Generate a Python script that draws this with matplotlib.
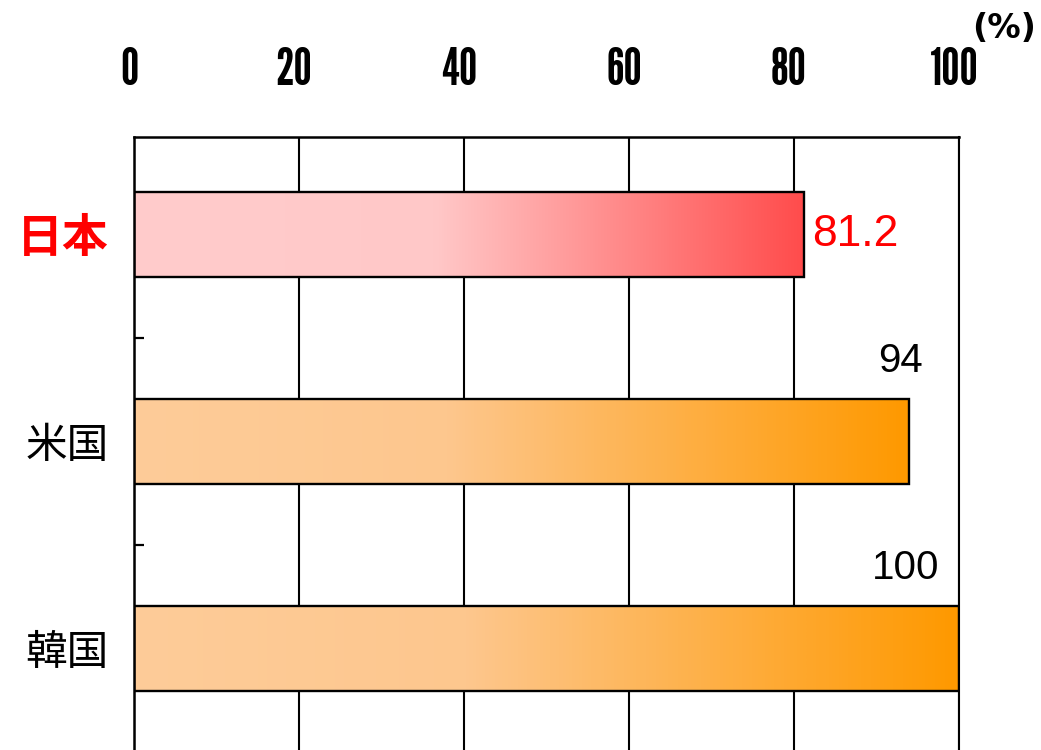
import numpy as np
import matplotlib.pyplot as plt
from matplotlib.colors import LinearSegmentedColormap
from matplotlib.patches import Rectangle
from matplotlib.transforms import ScaledTranslation

# category data (top to bottom)
countries = ['日本', '米国', '韓国']
values = [81.2, 94, 100]
value_labels = ['81.2', '94', '100']
label_colors = ['#FF0000', '#000000', '#000000']
xticks = [0, 20, 40, 60, 80, 100]

cjk = ['Noto Sans CJK JP', 'DejaVu Sans']
narrow = ['League Gothic', 'Oswald', 'Liberation Sans Narrow', 'DejaVu Sans']

red_cmap = LinearSegmentedColormap.from_list(
    'jp', [(0, '#FFCCCC'), (0.45, '#FFC8C8'), (1, '#FF4C4C')])
orange_cmap = LinearSegmentedColormap.from_list(
    'other', [(0, '#FECC99'), (0.4, '#FDC78E'), (1, '#FF9900')])
cmaps = [red_cmap, orange_cmap, orange_cmap]

fig = plt.figure(figsize=(10.41, 7.5), dpi=100)
ax = fig.add_axes([0.1287, -0.0033, 0.7925, 0.8206])

bar_h = 0.41
grad = np.linspace(0, 1, 256).reshape(1, -1)
for i, (v, cm) in enumerate(zip(values, cmaps)):
    ax.imshow(grad, cmap=cm, extent=[0, v, i + bar_h / 2, i - bar_h / 2],
              aspect='auto', interpolation='bicubic', zorder=2)
    ax.add_patch(Rectangle((0, i - bar_h / 2), v, bar_h, fill=False,
                           edgecolor='black', linewidth=1.7, zorder=3))

# value labels
ax.text(values[0] + 1.0, 0, value_labels[0], color='#FF0000', fontsize=32,
        family='Liberation Sans', va='center', ha='left')
ax.text(92.9, 1 - 0.39, value_labels[1], color='black', fontsize=29,
        family='Liberation Sans', va='center', ha='center')
ax.text(93.5, 2 - 0.39, value_labels[2], color='black', fontsize=29,
        family='Liberation Sans', va='center', ha='center')

ax.set_xlim(0, 100)
ax.set_ylim(2.5, -0.47)

ax.xaxis.tick_top()
ax.set_xticks(xticks)
ax.set_xticklabels([str(t) for t in xticks], family=narrow, fontsize=37)
ax.tick_params(axis='x', length=0, pad=30)
shift = ScaledTranslation(-5 / 100, 0, fig.dpi_scale_trans)
for lbl in ax.get_xticklabels():
    lbl.set_transform(lbl.get_transform() + shift)
ax.grid(axis='x', color='black', linewidth=1.5)
ax.set_axisbelow(True)

ax.set_yticks(range(len(countries)))
ax.set_yticklabels(countries, family=cjk, fontsize=30)
ax.tick_params(axis='y', which='major', length=0, pad=18)
for lbl, c in zip(ax.get_yticklabels(), label_colors):
    lbl.set_color(c)
ax.get_yticklabels()[0].set_fontweight('bold')
ax.get_yticklabels()[0].set_fontsize(33)

ax.set_yticks([0.5, 1.5], minor=True)
ax.tick_params(axis='y', which='minor', direction='in', length=7, width=1.6)

for s in ['top', 'left']:
    ax.spines[s].set_linewidth(1.8)
ax.spines['right'].set_linewidth(1.5)
ax.spines['bottom'].set_visible(False)

fig.text(0.995, 0.962, '(%)', family='DejaVu Sans', fontweight='bold',
         fontsize=24, ha='right', va='center')

fig.savefig('out.png', dpi=100)
